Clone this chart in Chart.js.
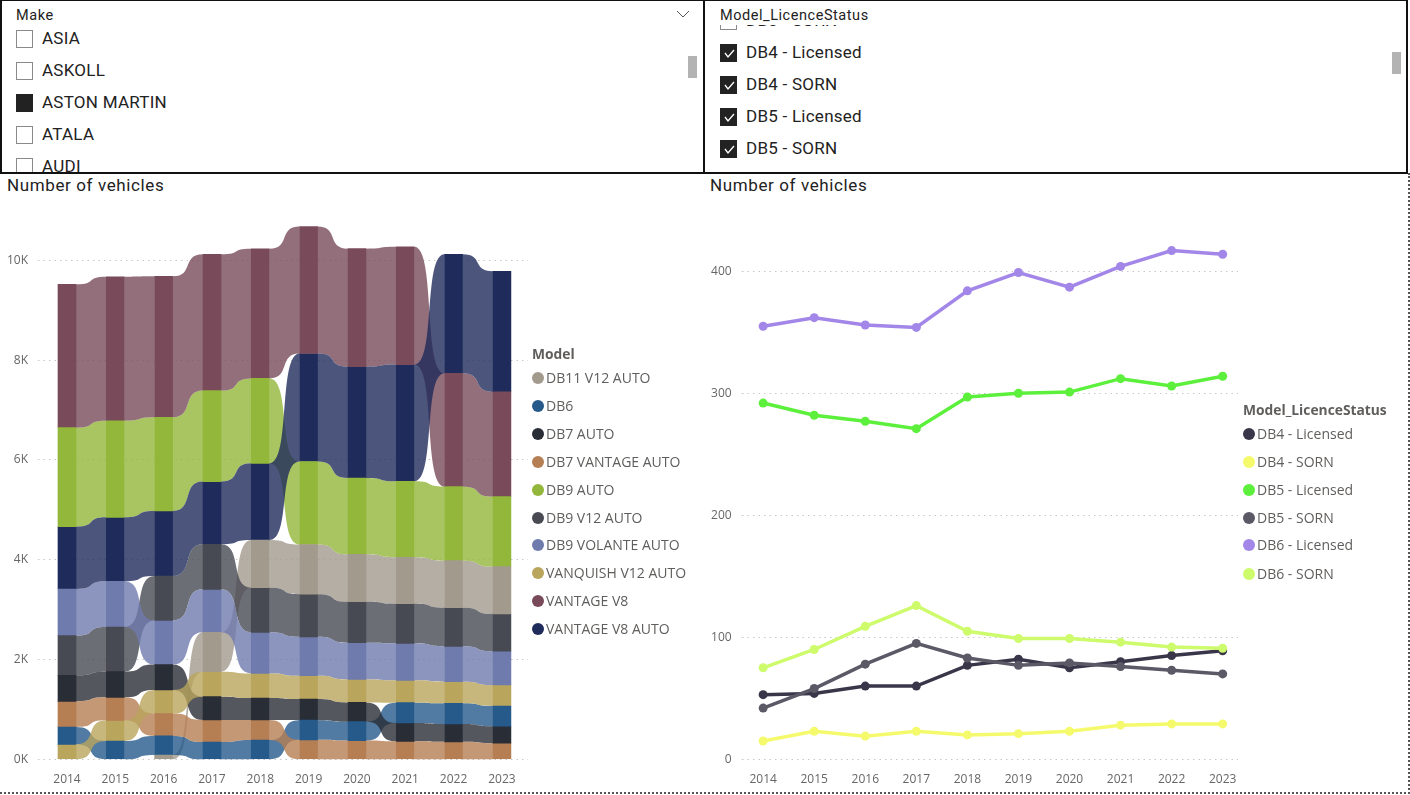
<!DOCTYPE html>
<html>
<head>
<meta charset="utf-8">
<script src="https://cdn.jsdelivr.net/npm/chart.js@4"></script>
<style>
  html, body { margin: 0; padding: 0; background: #fff; }
  body { position: relative; width: 1410px; height: 795px; overflow: hidden; font-family: "Open Sans", sans-serif; }
  canvas { position: absolute; top: 200px; }
  #ribbon { left: 0; }
  #lines { left: 700px; }
  .slicer { position: absolute; top: 0; height: 171px; border: 1px solid #111; border-width: 1px 2px 2px 2px; box-sizing: content-box; overflow: hidden; }
  #makeBox { left: 0; width: 701px; }
  #statusBox { left: 703px; width: 701px; }
  .slicer .head { position: absolute; top: 6px; font: 14.5px "Roboto", sans-serif; color: #222; background: #fff; z-index: 2; letter-spacing: .55px; }
  .slicer ul { list-style: none; margin: 0; padding: 0; position: absolute; left: 0; right: 0; top: 24px; bottom: 0; overflow: hidden; }
  .slicer li { position: absolute; height: 32px; font: 17px/28px "Roboto", sans-serif; color: #222; letter-spacing: .25px; white-space: nowrap; }
  .box { position: absolute; left: 0; top: 6px; width: 15px; height: 16px; border: 1px solid #8a8a8a; background: #fff; }
  .box.on { background: #222; border-color: #222; }
  .box svg { position: absolute; left: 2px; top: 3px; }
  .bar { position: absolute; width: 9px; height: 22px; background: #b3b3b3; }
  .title { position: absolute; top: 175px; font: 17px "Roboto", sans-serif; letter-spacing: .62px; color: #222; }
  .legend { position: absolute; font-size: 14px; color: #605e5c; }
  .legend b { position: absolute; white-space: nowrap; font-weight: 700; font-size: 13.8px; line-height: 18px; }
  .legend span { position: absolute; white-space: nowrap; line-height: 18px; }
  .legend i { position: absolute; width: 12px; height: 12px; border-radius: 50%; }
  #frame { position: absolute; left: 0; top: 173px; width: 1408px; height: 619px; border-right: 2px dotted #555; border-bottom: 2px dotted #555; }
</style>
</head>
<body>
<div id="frame"></div>

<div class="slicer" id="makeBox">
  <div class="head" style="left:14px">Make</div>
  <svg style="position:absolute;left:674px;top:8px" width="14" height="10"><path d="M1 2 L7 8 L13 2" fill="none" stroke="#555" stroke-width="1"/></svg>
  <ul id="makeList"></ul>
  <div class="bar" style="left:686px;top:55px"></div>
</div>
<div class="slicer" id="statusBox">
  <div class="head" style="left:15px">Model_LicenceStatus</div>
  <ul id="statusList"></ul>
  <div class="bar" style="left:687px;top:51px"></div>
</div>

<div class="title" style="left:7px">Number of vehicles</div>
<div class="title" style="left:710px">Number of vehicles</div>

<canvas id="ribbon" width="700" height="595"></canvas>
<canvas id="lines" width="700" height="595"></canvas>

<div class="legend" id="modelLegend"></div>
<div class="legend" id="statusLegend"></div>

<script>
const years = [2014, 2015, 2016, 2017, 2018, 2019, 2020, 2021, 2022, 2023]
const ribbonTicks = [0, 2000, 4000, 6000, 8000, 10000]
const lineTicks = [0, 100, 200, 300, 400]

// ribbon chart, one array per model, number of vehicles per year
const modelNames = ['DB11 V12 AUTO', 'DB6', 'DB7 AUTO', 'DB7 VANTAGE AUTO', 'DB9 AUTO', 'DB9 V12 AUTO', 'DB9 VOLANTE AUTO', 'VANQUISH V12 AUTO', 'VANTAGE V8', 'VANTAGE V8 AUTO']
const modelColors = ['#a39a8e', '#255a8b', '#292d36', '#b57e53', '#92b73b', '#474a53', '#6f7bac', '#b9a55c', '#784a5a', '#1f2b5b']
const db11V12Auto = [null, null, 87, 788, 955, 995, 949, 928, 942, 949]
const db6 = [347, 367, 381, 347, 387, 395, 380, 407, 414, 407]
const db7Auto = [521, 514, 508, 468, 441, 421, 385, 368, 358, 341]
const db7VantageAuto = [515, 461, 448, 441, 400, 390, 375, 360, 350, 321]
const db9Auto = [1984, 1936, 1877, 1824, 1703, 1663, 1530, 1523, 1483, 1403]
const db9V12Auto = [795, 895, 890, 902, 895, 855, 822, 795, 775, 748]
const db9VolanteAuto = [935, 915, 885, 862, 822, 781, 735, 741, 708, 675]
const vanquishV12Auto = [300, 414, 474, 501, 494, 468, 461, 448, 434, 421]
const vantageV8 = [2873, 2886, 2826, 2733, 2598, 2545, 2365, 2360, 2271, 2098]
const vantageV8Auto = [1249, 1283, 1303, 1256, 1537, 2164, 2231, 2340, 2385, 2418]
const modelValues = [db11V12Auto, db6, db7Auto, db7VantageAuto, db9Auto, db9V12Auto, db9VolanteAuto, vanquishV12Auto, vantageV8, vantageV8Auto]

// line chart, one array per model and licence status
const statusNames = ['DB4 - Licensed', 'DB4 - SORN', 'DB5 - Licensed', 'DB5 - SORN', 'DB6 - Licensed', 'DB6 - SORN']
const statusColors = ['#3a3649', '#f5fa6d', '#5cf03c', '#5c5967', '#a286e8', '#cdfb6c']
const db4Licensed = [53, 54, 60, 60, 77, 82, 75, 80, 85, 89]
const db4Sorn = [15, 23, 19, 23, 20, 21, 23, 28, 29, 29]
const db5Licensed = [292, 282, 277, 271, 297, 300, 301, 312, 306, 314]
const db5Sorn = [42, 58, 78, 95, 83, 77, 79, 76, 73, 70]
const db6Licensed = [355, 362, 356, 354, 384, 399, 387, 404, 417, 414]
const db6Sorn = [75, 90, 109, 126, 105, 99, 99, 96, 92, 91]
const statusValues = [db4Licensed, db4Sorn, db5Licensed, db5Sorn, db6Licensed, db6Sorn]

const makeItems = ['ASIA', 'ASKOLL', 'ASTON MARTIN', 'ATALA', 'AUDI']
const statusItems = ['DB3 - SORN', 'DB4 - Licensed', 'DB4 - SORN', 'DB5 - Licensed', 'DB5 - SORN']

const tickFont = { family: 'Open Sans', size: 12 }
const tickColor = '#666'
const gridStyle = { color: '#c8c8c8', lineWidth: 1, tickLength: 0 }
const dots = { display: false, dash: [1.5, 4] }

// slicers
function fillSlicer(id, items, left, firstTop, isOn, tick) {
    const list = document.getElementById(id)
    items.forEach((item, i) => {
        const li = document.createElement('li')
        li.style.left = left + 'px'
        li.style.top = firstTop + i * 32 + 'px'
        li.style.paddingLeft = '26px'
        const check = tick && isOn(item) ? '<svg width="13" height="11"><path d="M2 5 L5 9 L11 2" fill="none" stroke="#fff" stroke-width="1.3"/></svg>' : ''
        li.innerHTML = `<div class="box${isOn(item) ? ' on' : ''}">${check}</div>${item}`
        list.appendChild(li)
    })
}
fillSlicer('makeList', makeItems, 14, -1, item => item === 'ASTON MARTIN', false)
fillSlicer('statusList', statusItems, 15, -19, item => item !== 'DB3 - SORN', true)

// html legends
function fillLegend(id, title, names, colors, x, titleY, rowY) {
    const el = document.getElementById(id)
    let html = `<b style="left:${x}px;top:${titleY - 9}px">${title}</b>`
    names.forEach((name, i) => {
        html += `<i style="left:${x}px;top:${rowY[i] - 6}px;background:${colors[i]}"></i>`
        html += `<span style="left:${x + 14}px;top:${rowY[i] - 9}px">${name}</span>`
    })
    el.innerHTML = html
}
fillLegend('modelLegend', 'Model', modelNames, modelColors, 532, 354, [378, 406, 433.5, 461.5, 489.5, 517.5, 544.5, 573, 600.5, 628.5])
fillLegend('statusLegend', 'Model_LicenceStatus', statusNames, statusColors, 1243, 410, [434, 462, 490, 518, 545, 574])

// each year the models stack from smallest to largest
const ranges = modelValues.map(() => [])
years.forEach((year, i) => {
    const order = modelValues.map((v, m) => m).filter(m => modelValues[m][i] !== null)
    order.sort((a, b) => modelValues[a][i] - modelValues[b][i])
    let base = 0
    order.forEach(m => {
        ranges[m][i] = [base, base + modelValues[m][i]]
        base += modelValues[m][i]
    })
})

const barWidth = 18

// draws the bands between the columns, under the bars
const ribbonPlugin = {
    id: 'ribbons',
    beforeDatasetsDraw(chart) {
        const { x, y } = chart.scales
        const ctx = chart.ctx
        ctx.save()
        ctx.globalAlpha = 0.8
        ranges.forEach((range, m) => {
            ctx.fillStyle = modelColors[m]
            for (let i = 0; i < years.length - 1; i++) {
                if (!range[i] || !range[i + 1]) continue
                const x0 = x.getPixelForValue(years[i]) + barWidth / 2
                const x1 = x.getPixelForValue(years[i + 1]) - barWidth / 2
                const c0 = x0 + (x1 - x0) * 0.72
                const c1 = x0 + (x1 - x0) * 0.28
                const top0 = y.getPixelForValue(range[i][1])
                const top1 = y.getPixelForValue(range[i + 1][1])
                const low0 = y.getPixelForValue(range[i][0])
                const low1 = y.getPixelForValue(range[i + 1][0])
                ctx.beginPath()
                ctx.moveTo(x0, top0)
                ctx.bezierCurveTo(c0, top0, c1, top1, x1, top1)
                ctx.lineTo(x1, low1)
                ctx.bezierCurveTo(c1, low1, c0, low0, x0, low0)
                ctx.closePath()
                ctx.fill()
            }
        })
        ctx.restore()
    }
}

const ribbonChart = new Chart(document.getElementById('ribbon').getContext('2d'), {
    type: 'bar',
    data: {
        datasets: modelNames.map((name, m) => ({
            label: name,
            data: years.map((year, i) => ({ x: year, y: ranges[m][i] })).filter(p => p.y),
            backgroundColor: modelColors[m],
            barThickness: barWidth,
            grouped: false
        }))
    },
    options: {
        responsive: false,
        animation: false,
        layout: { padding: { top: 20.4, right: 172, left: 0, bottom: 0 } },
        plugins: { legend: { display: false }, tooltip: { enabled: false } },
        scales: {
            x: {
                type: 'linear',
                offset: false,
                min: 2013.4,
                max: 2023.54,
                grid: { display: false, offset: false },
                border: { display: false },
                afterFit: scale => { scale.height = 35.7 },
                ticks: { stepSize: 1, includeBounds: false, autoSkip: false, maxRotation: 0, padding: 5, color: tickColor, font: tickFont, callback: v => String(v) }
            },
            y: {
                min: 0,
                max: 10800,
                grid: gridStyle,
                border: dots,
                afterBuildTicks: scale => { scale.ticks = ribbonTicks.map(value => ({ value })) },
                afterFit: scale => { scale.width = 38 },
                ticks: { padding: 10, color: tickColor, font: tickFont, callback: v => `${v / 1000}K` }
            }
        }
    },
    plugins: [ribbonPlugin]
})

const lineChart = new Chart(document.getElementById('lines').getContext('2d'), {
    type: 'line',
    data: {
        datasets: statusNames.map((name, s) => ({
            label: name,
            data: years.map((year, i) => ({ x: year, y: statusValues[s][i] })),
            borderColor: statusColors[s],
            backgroundColor: statusColors[s],
            borderWidth: 3.5,
            pointRadius: 4.5,
            pointBorderWidth: 0,
            tension: 0,
            order: -s
        }))
    },
    options: {
        responsive: false,
        animation: false,
        layout: { padding: { top: 22.5, right: 162, left: 0, bottom: 0 } },
        plugins: { legend: { display: false }, tooltip: { enabled: false } },
        scales: {
            x: {
                type: 'linear',
                min: 2013.58,
                max: 2023.3,
                grid: { display: false },
                border: { display: false },
                afterFit: scale => { scale.height = 35.7 },
                ticks: { stepSize: 1, includeBounds: false, autoSkip: false, maxRotation: 0, padding: 5, color: tickColor, font: tickFont, callback: v => String(v) }
            },
            y: {
                min: 0,
                max: 440,
                grid: gridStyle,
                border: dots,
                afterBuildTicks: scale => { scale.ticks = lineTicks.map(value => ({ value })) },
                afterFit: scale => { scale.width = 41.7 },
                ticks: { padding: 10, color: tickColor, font: tickFont, callback: v => String(v) }
            }
        }
    }
})
</script>
</body>
</html>
